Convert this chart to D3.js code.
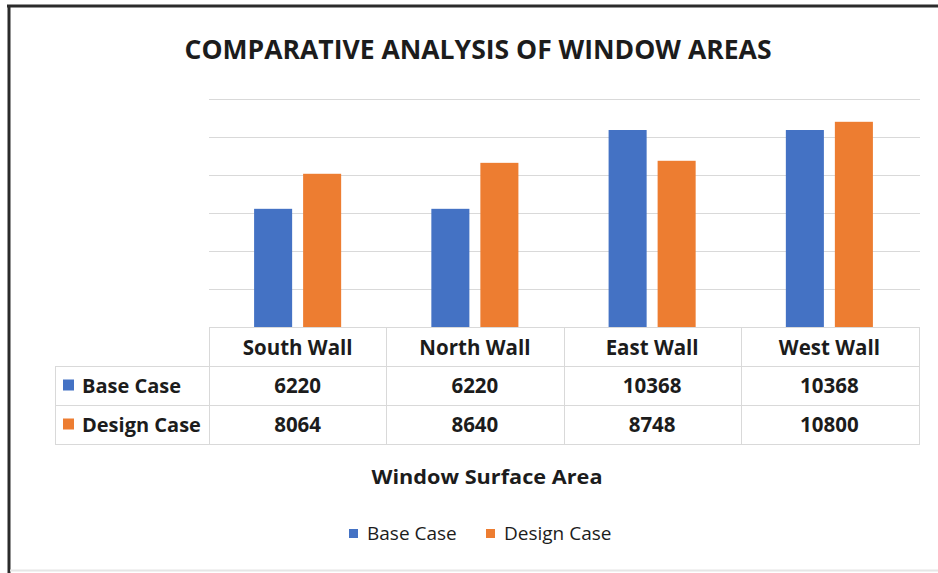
<!DOCTYPE html>
<html><head><meta charset="utf-8">
<script src="https://cdn.jsdelivr.net/npm/d3@7"></script>
<style>
html,body{margin:0;padding:0;background:#fff;}
text{font-family:"Open Sans",sans-serif;fill:#1c1c1c;}
</style></head>
<body><svg id="c" width="938" height="573"></svg>
<script>
const categories = ["South Wall","North Wall","East Wall","West Wall"];
const seriesNames = ["Base Case","Design Case"];
const baseCase = [6220,6220,10368,10368];
const designCase = [8064,8640,8748,10800];
const yTicks = [0,2000,4000,6000,8000,10000,12000];
const colors = ["#4472C4","#ED7D31"];
const title = "COMPARATIVE ANALYSIS OF WINDOW AREAS";
const axisTitle = "Window Surface Area";

const svg = d3.select("#c");
// frame
svg.append("rect").attr("x",0).attr("y",0).attr("width",938).attr("height",573).attr("fill","#fff");
svg.append("line").attr("x1",7).attr("x2",938).attr("y1",6).attr("y2",6).attr("stroke","#2b2b2b").attr("stroke-width",3);
svg.append("line").attr("x1",9).attr("x2",9).attr("y1",5).attr("y2",573).attr("stroke","#2b2b2b").attr("stroke-width",3);
svg.append("line").attr("x1",10).attr("x2",938).attr("y1",570.5).attr("y2",570.5).attr("stroke","#e6e6e6").attr("stroke-width",2);

const plotL = 209, plotR = 918, plotT = 99, plotB = 327;
const x = d3.scaleBand().domain(categories).range([plotL, plotR]).paddingInner(0).paddingOuter(0);
const x1 = d3.scaleBand().domain(seriesNames).range([0, x.bandwidth()]).paddingInner(0.224).paddingOuter(0.92);
const y = d3.scaleLinear().domain([0,12000]).range([plotB, plotT]);

// gridlines
svg.append("g").selectAll("line").data(yTicks.slice(1)).join("line")
  .attr("x1",plotL).attr("x2",plotR+2)
  .attr("y1",d=>Math.round(y(d))+0.5).attr("y2",d=>Math.round(y(d))+0.5)
  .attr("stroke","#d9d9d9").attr("stroke-width",1);

// bars
const series = [baseCase, designCase];
const g = svg.append("g");
categories.forEach((c,i)=>{
  seriesNames.forEach((s,j)=>{
    g.append("rect")
      .attr("x", x(c)+x1(s))
      .attr("width", x1.bandwidth())
      .attr("y", y(series[j][i]))
      .attr("height", plotB - y(series[j][i]))
      .attr("fill", colors[j]);
  });
});

// data table
const tableL = 55;
const rowY = [327, 366, 405, 444];
const lineC = "#d9d9d9";
const tg = svg.append("g");
tg.append("line").attr("x1",plotL).attr("x2",plotR+2).attr("y1",rowY[0]+0.5).attr("y2",rowY[0]+0.5).attr("stroke",lineC);
[1,2,3].forEach(k=>{
  tg.append("line").attr("x1",tableL).attr("x2",plotR+2).attr("y1",rowY[k]+0.5).attr("y2",rowY[k]+0.5).attr("stroke",lineC);
});
categories.forEach(c=>{
  tg.append("line").attr("x1",Math.round(x(c))+0.5).attr("x2",Math.round(x(c))+0.5).attr("y1",rowY[0]).attr("y2",rowY[3]).attr("stroke",lineC);
});
tg.append("line").attr("x1",plotR+1.5).attr("x2",plotR+1.5).attr("y1",rowY[0]).attr("y2",rowY[3]).attr("stroke",lineC);
tg.append("line").attr("x1",tableL+0.5).attr("x2",tableL+0.5).attr("y1",rowY[1]).attr("y2",rowY[3]).attr("stroke",lineC);

// header
tg.selectAll("text.h").data(categories).join("text").attr("class","h")
  .attr("x",d=>x(d)+x.bandwidth()/2).attr("y",355)
  .attr("text-anchor","middle").attr("font-size",20.5).attr("font-weight",700)
  .text(d=>d);
// rows
seriesNames.forEach((s,j)=>{
  const cy = (rowY[j+1]+rowY[j+2])/2;
  tg.append("rect").attr("x",63).attr("y",cy-6).attr("width",11).attr("height",11).attr("fill",colors[j]);
  tg.append("text").attr("x",82).attr("y",cy+7).attr("font-size",20).attr("font-weight",700).text(s);
  categories.forEach((c,i)=>{
    tg.append("text").attr("x",x(c)+x.bandwidth()/2).attr("y",cy+7)
      .attr("text-anchor","middle").attr("font-size",20.5).attr("font-weight",700)
      .text(series[j][i]);
  });
});

// title
svg.append("text").attr("x",478).attr("y",59).attr("text-anchor","middle")
  .attr("font-size",26).attr("font-weight",700).attr("textLength",587).attr("lengthAdjust","spacingAndGlyphs")
  .text(title);
// axis title
svg.append("text").attr("x",487).attr("y",484).attr("text-anchor","middle")
  .attr("font-size",20).attr("font-weight",700).attr("textLength",231).attr("lengthAdjust","spacingAndGlyphs")
  .text(axisTitle);

// legend
const leg = svg.append("g");
const legX = [349, 486];
seriesNames.forEach((s,j)=>{
  leg.append("rect").attr("x",legX[j]).attr("y",529).attr("width",9).attr("height",9).attr("fill",colors[j]);
  leg.append("text").attr("x",legX[j]+18).attr("y",540).attr("font-size",19).attr("fill","#404040").text(s);
});
</script></body></html>
